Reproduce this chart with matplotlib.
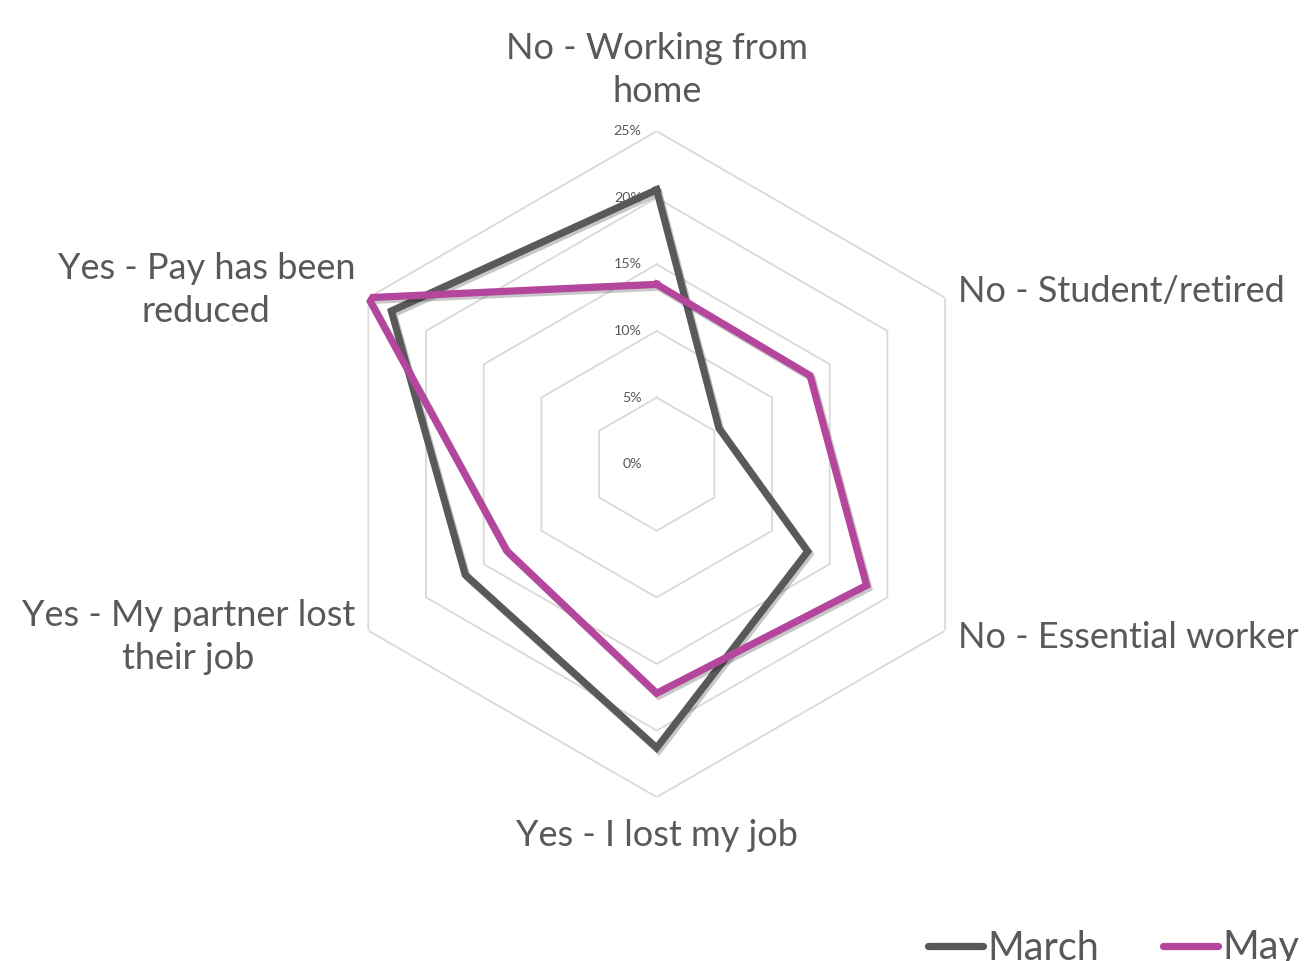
import numpy as np
import matplotlib
matplotlib.use("Agg")
import matplotlib.pyplot as plt
import matplotlib.patheffects as pe
from matplotlib.transforms import offset_copy

plt.rcParams['font.family'] = ['Lato', 'DejaVu Sans']

categories = ["No - Working from\nhome", "No - Student/retired", "No - Essential worker",
              "Yes - I lost my job", "Yes - My partner lost\ntheir job", "Yes - Pay has been\nreduced"]
march = [20.6, 5.4, 13.1, 21.3, 16.6, 23.0]
may = [13.5, 13.3, 18.2, 17.2, 13.0, 25.0]
ticks = [0, 5, 10, 15, 20, 25]

text_col = "#595959"
march_col = "#595959"
may_col = "#B4479D"

n = len(categories)
theta = np.arange(n) * 2 * np.pi / n
theta_c = np.append(theta, theta[0])

fig = plt.figure(figsize=(13.11, 9.61), dpi=100)
ax = fig.add_axes([0.2469, 0.1705, 0.508, 0.693], projection='polar')
ax.set_theta_zero_location('N')
ax.set_theta_direction(-1)
ax.set_ylim(0, 25)
ax.grid(False)
ax.spines['polar'].set_visible(False)
ax.set_xticks([])
ax.set_yticks([])
ax.patch.set_alpha(0)

# hexagon rings
for t in ticks[1:]:
    ax.plot(theta_c, [t] * (n + 1), color="#d9d9d9", lw=1.3, zorder=1)

lbl_tr = offset_copy(ax.transData, fig=fig, x=-15, y=0, units='dots')
for t in ticks:
    ax.text(0, t, f"{t}%", transform=lbl_tr, ha='right', va='center',
            fontsize=10.3, color=text_col, zorder=2)

shadow = [pe.SimpleLineShadow(offset=(1.5, -2), shadow_color='black', alpha=0.22), pe.Normal()]
l1, = ax.plot(theta_c, march + march[:1], color=march_col, lw=5.2, label="March",
              solid_joinstyle='miter', path_effects=shadow, zorder=3)
l2, = ax.plot(theta_c, may + may[:1], color=may_col, lw=5.2, label="May",
              solid_joinstyle='miter', path_effects=shadow, zorder=4)

W, H = 1311, 961
fs = 26
pos = [(657, 70, 'center'), (958, 291, 'left'), (958, 638, 'left'),
       (657, 835, 'center'), (355, 637, 'right'), (355, 290, 'right')]
for lab, (px, py, ha) in zip(categories, pos):
    fig.text(px / W, 1 - py / H, lab, ha=ha, va='center', multialignment='center',
             fontsize=fs, color=text_col, linespacing=1.35)

leg = fig.legend(handles=[l1, l2], loc='center left', bbox_to_anchor=(928 / W, 1 - 948 / H),
                 ncol=2, frameon=False, fontsize=28.5, handlelength=1.4, handletextpad=0.1,
                 columnspacing=1.6, borderpad=0, borderaxespad=0)
for t in leg.get_texts():
    t.set_color(text_col)
for h in leg.legend_handles:
    h.set_path_effects([])
    h.set_linewidth(5.2)
    h.set_solid_capstyle('round')

fig.savefig("out.png", dpi=100)
